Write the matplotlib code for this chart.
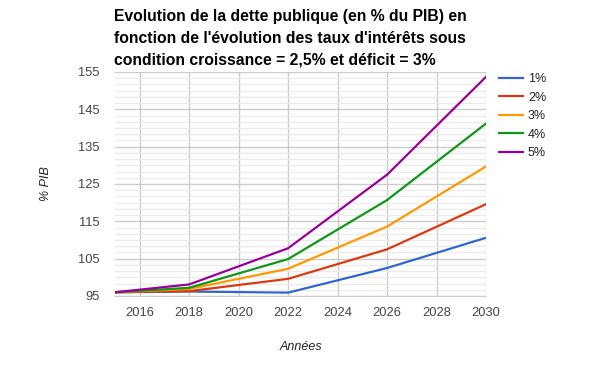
import numpy as np
import matplotlib
matplotlib.use('Agg')
import matplotlib.pyplot as plt
from matplotlib.ticker import MultipleLocator

# data
annees = [2015, 2018, 2022, 2026, 2030]
taux = ['1%', '2%', '3%', '4%', '5%']
dette_1 = [96.0, 96.2, 95.9, 102.5, 110.6]
dette_2 = [96.0, 96.3, 99.6, 107.5, 119.6]
dette_3 = [96.0, 96.9, 102.3, 113.6, 129.7]
dette_4 = [96.0, 97.2, 104.9, 120.7, 141.2]
dette_5 = [96.0, 98.1, 107.8, 127.5, 153.7]
series = [dette_1, dette_2, dette_3, dette_4, dette_5]
couleurs = ['#3366cc', '#dc3912', '#ff9900', '#109618', '#990099']

plt.rcParams['font.family'] = ['Liberation Sans', 'DejaVu Sans']

fig = plt.figure(figsize=(6, 3.71), dpi=100)
ax = fig.add_axes([115/600, 1-296/371, 371/600, 224/371])

for vals, lab, c in zip(series, taux, couleurs):
    ax.plot(annees, vals, color=c, lw=1.6, label=lab, solid_joinstyle='round')

ax.set_xlim(2015, 2030)
ax.set_ylim(95, 155)
ax.set_xticks(np.arange(2016, 2031, 2))
ax.set_yticks(np.arange(95, 156, 10))
ax.yaxis.set_minor_locator(MultipleLocator(10/6))
ax.grid(which='major', color='#cccccc', lw=1)
ax.grid(which='minor', axis='y', color='#ebebeb', lw=1)
ax.set_axisbelow(True)
for s in ['top', 'right', 'left']:
    ax.spines[s].set_visible(False)
ax.spines['bottom'].set_color('#cccccc')
ax.tick_params(which='both', length=0, labelsize=9.3, colors='#444444')
ax.tick_params(axis='x', pad=8)
ax.tick_params(axis='y', pad=11)

ax.set_xlabel('Années', style='italic', fontsize=9, color='#222222', labelpad=16)
ax.set_ylabel('% PIB', style='italic', fontsize=9, color='#222222', labelpad=19)

fig.text(114/600, 1-9/371,
         "Evolution de la dette publique (en % du PIB) en\n"
         "fonction de l'évolution des taux d'intérêts sous\n"
         "condition croissance = 2,5% et déficit = 3%",
         ha='left', va='top', fontsize=11.3, fontweight='bold', linespacing=1.58)

ax.legend(loc='upper left', bbox_to_anchor=(488/600, 1-62/371), bbox_transform=fig.transFigure,
          frameon=False, fontsize=9, handlelength=1.9, labelspacing=0.52,
          handletextpad=0.4, labelcolor='#222222')

fig.savefig('out.png', dpi=100)
